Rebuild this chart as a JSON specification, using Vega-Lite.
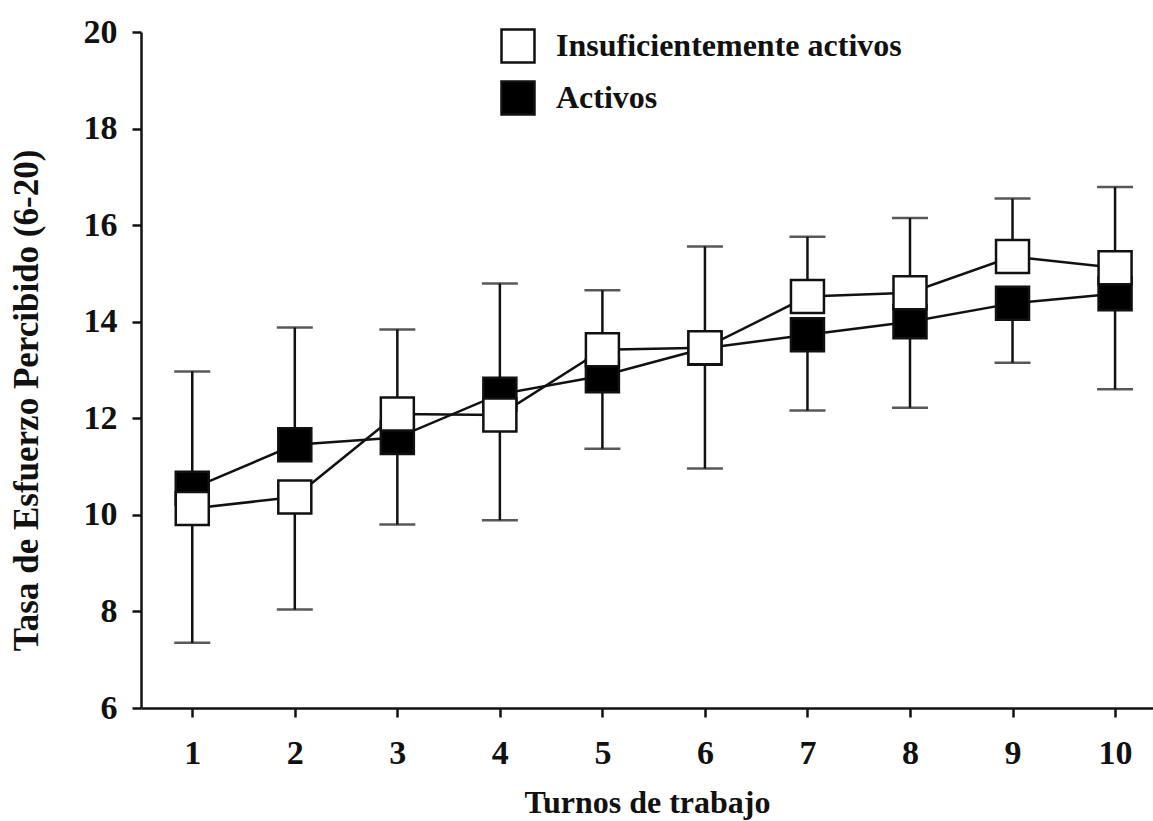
{
  "$schema": "https://vega.github.io/schema/vega-lite/v6.json",
  "width": 1012,
  "height": 676,
  "autosize": {"type": "none"},
  "padding": {"left": 141, "top": 32, "right": 0, "bottom": 113},
  "background": "white",
  "config": {
    "view": {"stroke": null},
    "font": "Liberation Serif",
    "axis": {
      "grid": false,
      "domainColor": "#111",
      "domainWidth": 2.5,
      "tickColor": "#111",
      "tickWidth": 2.5,
      "tickSize": 9,
      "labelFont": "Liberation Serif",
      "labelFontWeight": "bold",
      "labelFontSize": 34,
      "labelColor": "#111",
      "titleFont": "Liberation Serif",
      "titleFontWeight": "bold",
      "titleFontSize": 32,
      "titleColor": "#111"
    }
  },
  "data": {
    "values": [
      {"turno": 1, "grupo": "Activos", "media": 10.55, "extremo": 12.97},
      {"turno": 2, "grupo": "Activos", "media": 11.45, "extremo": 13.88},
      {"turno": 3, "grupo": "Activos", "media": 11.6, "extremo": 9.8},
      {"turno": 4, "grupo": "Activos", "media": 12.5, "extremo": 14.79},
      {"turno": 5, "grupo": "Activos", "media": 12.88, "extremo": 11.37},
      {"turno": 6, "grupo": "Activos", "media": 13.45, "extremo": 10.96},
      {"turno": 7, "grupo": "Activos", "media": 13.73, "extremo": 12.16},
      {"turno": 8, "grupo": "Activos", "media": 14.0, "extremo": 12.22},
      {"turno": 9, "grupo": "Activos", "media": 14.38, "extremo": 13.15},
      {"turno": 10, "grupo": "Activos", "media": 14.58, "extremo": 12.6},
      {"turno": 1, "grupo": "Insuficientemente activos", "media": 10.13, "extremo": 7.35},
      {"turno": 2, "grupo": "Insuficientemente activos", "media": 10.37, "extremo": 8.04},
      {"turno": 3, "grupo": "Insuficientemente activos", "media": 12.09, "extremo": 13.84},
      {"turno": 4, "grupo": "Insuficientemente activos", "media": 12.07, "extremo": 9.89},
      {"turno": 5, "grupo": "Insuficientemente activos", "media": 13.42, "extremo": 14.65},
      {"turno": 6, "grupo": "Insuficientemente activos", "media": 13.46, "extremo": 15.56},
      {"turno": 7, "grupo": "Insuficientemente activos", "media": 14.52, "extremo": 15.76},
      {"turno": 8, "grupo": "Insuficientemente activos", "media": 14.6, "extremo": 16.15},
      {"turno": 9, "grupo": "Insuficientemente activos", "media": 15.35, "extremo": 16.55},
      {"turno": 10, "grupo": "Insuficientemente activos", "media": 15.12, "extremo": 16.79}
    ]
  },
  "encoding": {
    "x": {
      "field": "turno",
      "type": "quantitative",
      "scale": {"domain": [0.5, 10.37], "nice": false, "zero": false},
      "axis": {
        "values": [1, 2, 3, 4, 5, 6, 7, 8, 9, 10],
        "title": "Turnos de trabajo",
        "labelPadding": 19,
        "titleX": 506,
        "titleY": 104,
        "titleBaseline": "alphabetic",
        "titleAnchor": "middle"
      }
    }
  },
  "layer": [
    {
      "mark": {"type": "rule", "color": "#111", "strokeWidth": 2.5},
      "encoding": {
        "y": {"field": "media", "type": "quantitative"},
        "y2": {"field": "extremo"}
      }
    },
    {
      "mark": {"type": "tick", "orient": "horizontal", "color": "#111", "thickness": 2.5, "size": 36},
      "encoding": {
        "y": {"field": "extremo", "type": "quantitative"}
      }
    },
    {
      "mark": {"type": "line", "color": "#111", "strokeWidth": 2.5},
      "encoding": {
        "y": {"field": "media", "type": "quantitative"},
        "detail": {"field": "grupo"}
      }
    },
    {
      "mark": {"type": "point", "shape": "square", "filled": true, "size": 1089, "stroke": "#111", "strokeWidth": 2.5, "opacity": 1},
      "encoding": {
        "y": {
          "field": "media",
          "type": "quantitative",
          "scale": {"domain": [6, 20], "nice": false, "zero": false},
          "axis": {
            "values": [6, 8, 10, 12, 14, 16, 18, 20],
            "title": "Tasa de Esfuerzo Percibido (6-20)",
            "labelPadding": 15,
            "titleFontSize": 35,
            "titleX": -115,
            "titleY": 368,
            "titleAngle": 270,
            "titleBaseline": "middle",
            "titleAnchor": "middle"
          }
        },
        "fill": {
          "field": "grupo",
          "type": "nominal",
          "scale": {"domain": ["Insuficientemente activos", "Activos"], "range": ["white", "black"]},
          "legend": {
            "title": null,
            "orient": "none",
            "legendX": 359,
            "legendY": -4,
            "padding": 0,
            "symbolType": "square",
            "symbolSize": 1089,
            "symbolStrokeColor": "#111",
            "symbolStrokeWidth": 2.5,
            "symbolOpacity": 1,
            "labelFont": "Liberation Serif",
            "labelFontWeight": "bold",
            "labelFontSize": 32,
            "labelColor": "#111",
            "labelOffset": 20,
            "rowPadding": 8,
            "labelLimit": 600
          }
        }
      }
    }
  ]
}
